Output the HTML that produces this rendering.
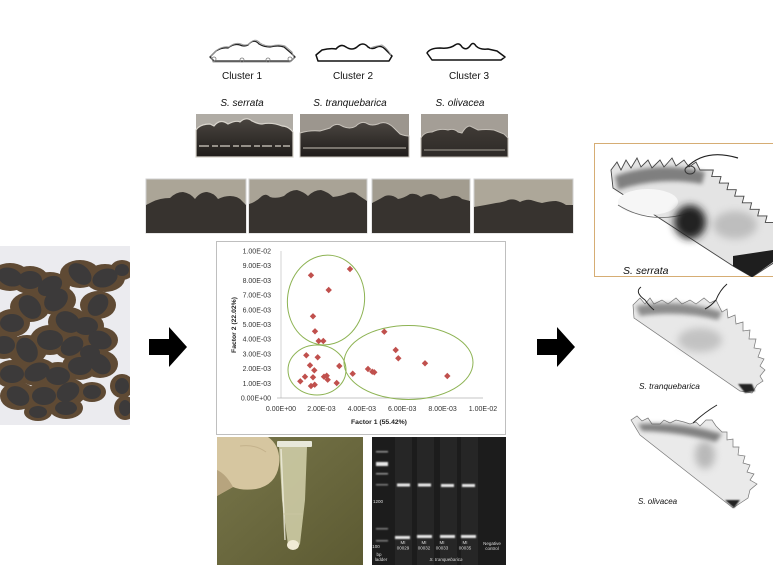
<!DOCTYPE html>
<html><head><meta charset="utf-8"><style>
html,body{margin:0;padding:0;background:#fff;}
svg{display:block;}
text{font-family:"Liberation Sans",Arial,sans-serif;}
</style></head><body>
<svg width="773" height="581" viewBox="0 0 773 581" xmlns="http://www.w3.org/2000/svg">
<defs>
<filter id="bl2" x="-50%" y="-50%" width="200%" height="200%"><feGaussianBlur stdDeviation="2"/></filter>
<filter id="bl4" x="-50%" y="-50%" width="200%" height="200%"><feGaussianBlur stdDeviation="4"/></filter>
<filter id="bl1" x="-50%" y="-50%" width="200%" height="200%"><feGaussianBlur stdDeviation="0.8"/></filter>
<linearGradient id="olive" x1="0" y1="0" x2="1" y2="1"><stop offset="0" stop-color="#78764a"/><stop offset="1" stop-color="#5c5a32"/></linearGradient>
<linearGradient id="dk1" x1="0" y1="0" x2="0" y2="1"><stop offset="0" stop-color="#4a4540"/><stop offset="1" stop-color="#1f1c1a"/></linearGradient>
<linearGradient id="dk2" x1="0" y1="0" x2="0" y2="1"><stop offset="0" stop-color="#403b36"/><stop offset="1" stop-color="#2e2a27"/></linearGradient>
<clipPath id="cp1"><rect x="594" y="143" width="179" height="134"/></clipPath>
<clipPath id="cpc"><rect x="0" y="246" width="130" height="179"/></clipPath>
</defs>
<rect width="773" height="581" fill="#fff"/>

<!-- cluster outlines -->
<g fill="none" stroke-linejoin="round">
<path d="M210,57 L216,51 Q222,47 228,48 Q234,43 240,45 Q244,47 248,45 Q254,38 259,44 Q264,47 270,47 Q278,45 284,47 L291,53 L295,57 L291,61 L214,61 Z" stroke="#222" stroke-width="1.3"/>
<path d="M211,56 L217,50 Q223,46 229,47 Q235,42 241,44 Q245,46 249,44 Q255,37 260,43 Q265,46 271,46 Q279,44 285,46 L292,52 L294,58 L290,62 L213,62 Z" stroke="#999" stroke-width="1"/>
<circle cx="214" cy="59" r="2" stroke="#777" stroke-width=".8"/><circle cx="242" cy="60" r="2" stroke="#777" stroke-width=".8"/><circle cx="268" cy="60" r="2" stroke="#777" stroke-width=".8"/><circle cx="290" cy="59" r="2" stroke="#777" stroke-width=".8"/>
<path d="M316,55 L322,50 Q330,48 336,49 Q341,43 346,47 Q352,51 357,47 Q363,41 368,47 Q372,50 377,47 Q381,45 385,49 L392,56 L389,61 L318,61 Z" stroke="#111" stroke-width="1.5"/>
<path d="M370,48 Q376,46 382,45 Q387,48 391,55" stroke="#999" stroke-width="1"/>
<path d="M427,53 Q430,48 440,48 Q450,49 455,45 Q459,42 462,47 Q466,51 470,46 Q473,41 476,46 Q480,50 488,49 L497,51 L505,57 L501,60 L432,60 Z" stroke="#111" stroke-width="1.5"/>
</g>
<g font-size="10" fill="#111" text-anchor="middle">
<text x="242" y="79">Cluster 1</text>
<text x="353" y="79">Cluster 2</text>
<text x="469" y="79">Cluster 3</text>
</g>
<g font-size="10" fill="#111" text-anchor="middle" font-style="italic">
<text x="242" y="106">S. serrata</text>
<text x="350" y="106">S. tranquebarica</text>
<text x="460" y="106">S. olivacea</text>
</g>

<!-- row 1 photos -->
<rect x="196" y="114" width="97" height="43" fill="#b0aca5"/>
<path d="M196,130 Q200,124 210,124 L214,126 Q220,118 228,124 Q236,120 240,122 Q246,116 252,121 Q258,124 262,124 Q272,122 282,126 Q288,126 293,132 L293,157 L196,157 Z" fill="url(#dk1)" stroke="#d8d4cc" stroke-width="1.2"/>
<line x1="199" y1="146" x2="290" y2="146" stroke="#b8b3aa" stroke-width="1.5" stroke-dasharray="10 3 6 2"/>
<rect x="300" y="114" width="109" height="43" fill="#9c968e"/>
<path d="M300,133 Q310,130 320,131 L330,128 Q336,122 342,126 Q350,130 356,126 Q362,120 368,124 Q372,126 378,124 Q386,120 394,128 L400,134 Q405,136 409,136 L409,157 L300,157 Z" fill="url(#dk1)" stroke="#c9c4bc" stroke-width="1"/>
<line x1="303" y1="148" x2="406" y2="148" stroke="#a9a39a" stroke-width="1.2"/>
<rect x="421" y="114" width="87" height="43" fill="#a49e96"/>
<path d="M421,138 Q424,132 432,132 Q440,128 448,130 Q454,128 458,132 L462,133 Q466,126 470,126 Q474,128 478,130 Q486,129 494,130 L504,134 L508,138 L508,157 L421,157 Z" fill="url(#dk2)" stroke="#c3beb6" stroke-width="1"/>
<line x1="424" y1="150" x2="505" y2="150" stroke="#8f8a82" stroke-width="1.2"/>

<!-- row 2 photos -->
<g stroke="#cfcfcf" stroke-width="1">
<rect x="146" y="179" width="100" height="54" fill="#aba597"/>
<rect x="249" y="179" width="118" height="54" fill="#a9a396"/>
<rect x="372" y="179" width="98" height="54" fill="#a29c8f"/>
<rect x="474" y="179" width="99" height="54" fill="#ada799"/>
</g>
<g fill="#37332f">
<path d="M146,205 L152,202 Q160,198 170,198 Q176,192 183,192 Q190,193 195,199 Q200,192 207,192 Q214,193 218,199 Q224,196 230,196 Q238,196 242,201 L246,205 L246,233 L146,233 Z"/>
<path d="M249,204 Q256,202 262,196 Q266,193 270,197 Q276,199 284,196 Q290,190 297,190 Q304,192 308,196 Q314,190 321,190 Q328,192 333,197 Q342,196 348,193 Q354,191 358,195 L364,199 L367,201 L367,233 L249,233 Z"/>
<path d="M372,203 Q378,200 385,196 Q392,194 398,199 Q404,198 410,194 Q416,193 421,197 Q426,194 431,194 Q436,195 440,199 Q448,198 452,196 Q458,195 462,199 L470,201 L470,233 L372,233 Z"/>
<path d="M474,207 Q486,205 496,203 Q504,202 508,200 Q514,198 520,202 Q526,199 531,200 Q537,202 542,203 Q550,201 556,201 Q562,202 566,205 L573,205 L573,233 L474,233 Z"/>
</g>

<!-- crab photo -->
<rect x="0" y="246" width="130" height="179" fill="#ebebef"/>
<g clip-path="url(#cpc)">
<g fill="#5f4a34">
<ellipse cx="10" cy="277" rx="20" ry="14"/><ellipse cx="30" cy="280" rx="19" ry="14"/><ellipse cx="50" cy="286" rx="20" ry="14"/><ellipse cx="80" cy="274" rx="20" ry="14"/><ellipse cx="105" cy="278" rx="20" ry="14"/><ellipse cx="122" cy="270" rx="12" ry="10"/><ellipse cx="30" cy="307" rx="20" ry="15"/><ellipse cx="12" cy="323" rx="18" ry="14"/><ellipse cx="56" cy="300" rx="20" ry="15"/><ellipse cx="68" cy="322" rx="20" ry="15"/><ellipse cx="86" cy="326" rx="18" ry="14"/><ellipse cx="98" cy="305" rx="18" ry="14"/><ellipse cx="100" cy="340" rx="18" ry="13"/><ellipse cx="4" cy="345" rx="17" ry="14"/><ellipse cx="27" cy="350" rx="20" ry="15"/><ellipse cx="50" cy="340" rx="20" ry="15"/><ellipse cx="72" cy="346" rx="18" ry="14"/><ellipse cx="80" cy="366" rx="18" ry="14"/><ellipse cx="100" cy="364" rx="18" ry="14"/><ellipse cx="12" cy="374" rx="18" ry="14"/><ellipse cx="37" cy="372" rx="20" ry="14"/><ellipse cx="58" cy="376" rx="18" ry="14"/><ellipse cx="18" cy="396" rx="18" ry="14"/><ellipse cx="44" cy="396" rx="18" ry="14"/><ellipse cx="68" cy="392" rx="18" ry="14"/><ellipse cx="66" cy="408" rx="17" ry="11"/><ellipse cx="122" cy="386" rx="12" ry="12"/><ellipse cx="125" cy="408" rx="11" ry="12"/><ellipse cx="90" cy="353" rx="16" ry="12"/><ellipse cx="92" cy="392" rx="14" ry="10"/><ellipse cx="38" cy="412" rx="14" ry="9"/>
</g>
<g fill="#3c3a3a">
<ellipse cx="10" cy="277" rx="13" ry="9" transform="rotate(20 10 277)"/><ellipse cx="30" cy="280" rx="12" ry="9"/><ellipse cx="50" cy="286" rx="13" ry="9" transform="rotate(-30 50 286)"/><ellipse cx="80" cy="274" rx="13" ry="9" transform="rotate(40 80 274)"/><ellipse cx="105" cy="278" rx="13" ry="9" transform="rotate(-20 105 278)"/><ellipse cx="122" cy="270" rx="7" ry="6"/><ellipse cx="30" cy="307" rx="13" ry="10" transform="rotate(50 30 307)"/><ellipse cx="12" cy="323" rx="12" ry="9"/><ellipse cx="56" cy="300" rx="13" ry="10" transform="rotate(-40 56 300)"/><ellipse cx="68" cy="322" rx="13" ry="10" transform="rotate(30 68 322)"/><ellipse cx="86" cy="326" rx="12" ry="9"/><ellipse cx="98" cy="305" rx="12" ry="9" transform="rotate(-50 98 305)"/><ellipse cx="100" cy="340" rx="12" ry="9" transform="rotate(20 100 340)"/><ellipse cx="4" cy="345" rx="11" ry="9"/><ellipse cx="27" cy="350" rx="13" ry="10" transform="rotate(60 27 350)"/><ellipse cx="50" cy="340" rx="13" ry="10"/><ellipse cx="72" cy="346" rx="12" ry="9" transform="rotate(-30 72 346)"/><ellipse cx="80" cy="366" rx="12" ry="9"/><ellipse cx="100" cy="364" rx="12" ry="9" transform="rotate(40 100 364)"/><ellipse cx="12" cy="374" rx="12" ry="9"/><ellipse cx="37" cy="372" rx="13" ry="9" transform="rotate(-20 37 372)"/><ellipse cx="58" cy="376" rx="12" ry="9"/><ellipse cx="18" cy="396" rx="12" ry="9" transform="rotate(30 18 396)"/><ellipse cx="44" cy="396" rx="12" ry="9"/><ellipse cx="68" cy="392" rx="12" ry="9" transform="rotate(-30 68 392)"/><ellipse cx="66" cy="408" rx="11" ry="7"/><ellipse cx="122" cy="386" rx="7" ry="8"/><ellipse cx="125" cy="408" rx="6" ry="8"/><ellipse cx="90" cy="353" rx="10" ry="8"/><ellipse cx="92" cy="392" rx="9" ry="7"/><ellipse cx="38" cy="412" rx="9" ry="6"/>
</g>
</g>

<!-- arrows -->
<path d="M149,339 L169,339 L169,327 L187,347 L169,367 L169,355 L149,355 Z" fill="#000"/>
<path d="M537,339 L557,339 L557,327 L575,347 L557,367 L557,355 L537,355 Z" fill="#000"/>

<!-- chart -->
<rect x="216.5" y="241.5" width="289" height="193" fill="#fff" stroke="#bfbfbf"/>
<line x1="281" y1="251" x2="281" y2="398" stroke="#c8c8c8" stroke-width=".8"/>
<line x1="277" y1="398" x2="483" y2="398" stroke="#b0b0b0" stroke-width=".8"/>
<g font-size="7" fill="#333" text-anchor="end">
<text x="271" y="400.5">0.00E+00</text>
<text x="271" y="385.8">1.00E-03</text>
<text x="271" y="371.1">2.00E-03</text>
<text x="271" y="356.4">3.00E-03</text>
<text x="271" y="341.7">4.00E-03</text>
<text x="271" y="327">5.00E-03</text>
<text x="271" y="312.3">6.00E-03</text>
<text x="271" y="297.6">7.00E-03</text>
<text x="271" y="282.9">8.00E-03</text>
<text x="271" y="268.2">9.00E-03</text>
<text x="271" y="253.5">1.00E-02</text>
</g>
<g font-size="7" fill="#333" text-anchor="middle">
<text x="281" y="411">0.00E+00</text>
<text x="321.4" y="411">2.00E-03</text>
<text x="361.8" y="411">4.00E-03</text>
<text x="402.2" y="411">6.00E-03</text>
<text x="442.6" y="411">8.00E-03</text>
<text x="483" y="411">1.00E-02</text>
</g>
<text x="379" y="424" font-size="6.8" font-weight="bold" fill="#222" text-anchor="middle">Factor 1 (55.42%)</text>
<text x="0" y="0" font-size="6.8" font-weight="bold" fill="#222" text-anchor="middle" transform="translate(236,325) rotate(-90)">Factor 2 (22.02%)</text>
<g fill="none" stroke="#8db353" stroke-width="1">
<ellipse cx="326" cy="300" rx="38.5" ry="45" transform="rotate(8 326 300)"/>
<ellipse cx="317" cy="370" rx="29" ry="25"/>
<ellipse cx="408.5" cy="362.5" rx="64.5" ry="37"/>
</g>
<g fill="#c0504d">
<path d="M0,-3.2L3.2,0L0,3.2L-3.2,0Z" transform="translate(311,275.3)"/>
<path d="M0,-3.2L3.2,0L0,3.2L-3.2,0Z" transform="translate(350,269)"/>
<path d="M0,-3.2L3.2,0L0,3.2L-3.2,0Z" transform="translate(328.7,290)"/>
<path d="M0,-3.2L3.2,0L0,3.2L-3.2,0Z" transform="translate(313,316.3)"/>
<path d="M0,-3.2L3.2,0L0,3.2L-3.2,0Z" transform="translate(315,331.3)"/>
<path d="M0,-3.2L3.2,0L0,3.2L-3.2,0Z" transform="translate(318.7,341)"/>
<path d="M0,-3.2L3.2,0L0,3.2L-3.2,0Z" transform="translate(323.3,341)"/>
<path d="M0,-3.2L3.2,0L0,3.2L-3.2,0Z" transform="translate(306.3,355.3)"/>
<path d="M0,-3.2L3.2,0L0,3.2L-3.2,0Z" transform="translate(317.7,357.3)"/>
<path d="M0,-3.2L3.2,0L0,3.2L-3.2,0Z" transform="translate(339.3,366)"/>
<path d="M0,-3.2L3.2,0L0,3.2L-3.2,0Z" transform="translate(310,365.3)"/>
<path d="M0,-3.2L3.2,0L0,3.2L-3.2,0Z" transform="translate(314.3,370.3)"/>
<path d="M0,-3.2L3.2,0L0,3.2L-3.2,0Z" transform="translate(305,376.7)"/>
<path d="M0,-3.2L3.2,0L0,3.2L-3.2,0Z" transform="translate(313,377.3)"/>
<path d="M0,-3.2L3.2,0L0,3.2L-3.2,0Z" transform="translate(324,376.7)"/>
<path d="M0,-3.2L3.2,0L0,3.2L-3.2,0Z" transform="translate(326.7,375.7)"/>
<path d="M0,-3.2L3.2,0L0,3.2L-3.2,0Z" transform="translate(327.7,379.7)"/>
<path d="M0,-3.2L3.2,0L0,3.2L-3.2,0Z" transform="translate(300.3,381.3)"/>
<path d="M0,-3.2L3.2,0L0,3.2L-3.2,0Z" transform="translate(336.7,383)"/>
<path d="M0,-3.2L3.2,0L0,3.2L-3.2,0Z" transform="translate(311,386)"/>
<path d="M0,-3.2L3.2,0L0,3.2L-3.2,0Z" transform="translate(314.7,384.7)"/>
<path d="M0,-3.2L3.2,0L0,3.2L-3.2,0Z" transform="translate(352.7,373.7)"/>
<path d="M0,-3.2L3.2,0L0,3.2L-3.2,0Z" transform="translate(368,369)"/>
<path d="M0,-3.2L3.2,0L0,3.2L-3.2,0Z" transform="translate(372.3,371.7)"/>
<path d="M0,-3.2L3.2,0L0,3.2L-3.2,0Z" transform="translate(374.3,372.3)"/>
<path d="M0,-3.2L3.2,0L0,3.2L-3.2,0Z" transform="translate(384.3,331.7)"/>
<path d="M0,-3.2L3.2,0L0,3.2L-3.2,0Z" transform="translate(395.7,350)"/>
<path d="M0,-3.2L3.2,0L0,3.2L-3.2,0Z" transform="translate(398.3,358.3)"/>
<path d="M0,-3.2L3.2,0L0,3.2L-3.2,0Z" transform="translate(425,363.3)"/>
<path d="M0,-3.2L3.2,0L0,3.2L-3.2,0Z" transform="translate(447.3,376)"/>
</g>

<!-- tube photo -->
<rect x="217" y="437" width="146" height="128" fill="url(#olive)"/>
<path d="M217,437 L268,437 Q281,446 279,465 Q276,485 256,489 Q242,491 233,487 Q224,492 217,496 Z" fill="#d6c6a0"/>
<path d="M217,470 Q226,474 233,487 Q224,492 217,496 Z" fill="#b7a47e"/>
<path d="M240,446 Q255,444 266,452" stroke="#c4b28c" stroke-width="1" fill="none"/>
<rect x="277" y="441" width="35" height="6" rx="1" fill="#e8e8da"/>
<path d="M279,447 L307,447 L305,500 L300,544 Q294,554 288,545 L282,500 Z" fill="#d4d1ac" opacity=".85"/>
<path d="M281,449 L285,540" stroke="#f0eedf" stroke-width="1.5" opacity=".8"/>
<line x1="283" y1="514" x2="303" y2="514" stroke="#c9c5a0" stroke-width="1"/>
<ellipse cx="293" cy="545" rx="6" ry="5" fill="#f1ebd5"/>

<!-- gel -->
<rect x="372" y="437" width="134" height="128" fill="#1c1c1c"/>
<g fill="#262626">
<rect x="395" y="437" width="17" height="128"/><rect x="417" y="437" width="17" height="128"/><rect x="440" y="437" width="17" height="128"/><rect x="461" y="437" width="17" height="128"/>
</g>
<g fill="#e8e8e8" filter="url(#bl1)">
<rect x="376" y="451" width="12" height="1.5" opacity=".6"/>
<rect x="376" y="462" width="12" height="4"/>
<rect x="376" y="473" width="12" height="1.5" opacity=".6"/>
<rect x="376" y="484" width="12" height="1.5" opacity=".5"/>
<rect x="376" y="528" width="12" height="1.5" opacity=".5"/>
<rect x="376" y="540" width="12" height="1.5" opacity=".5"/>
<rect x="397" y="483.5" width="13" height="3"/>
<rect x="418" y="483.5" width="13" height="3"/>
<rect x="441" y="484" width="13" height="3"/>
<rect x="462" y="484" width="13" height="3"/>
<rect x="395" y="536" width="15" height="3"/>
<rect x="417" y="535" width="15" height="3"/>
<rect x="440" y="535" width="15" height="3"/>
<rect x="461" y="535" width="15" height="3"/>
</g>
<g font-size="4.5" fill="#ddd" text-anchor="middle">
<text x="378" y="503">1200</text>
<text x="376" y="548">100</text>
<text x="379" y="556">bp</text>
<text x="381" y="561">ladder</text>
<text x="403" y="544">MI</text><text x="403" y="549.5">00029</text>
<text x="424" y="544">MI</text><text x="424" y="549.5">00032</text>
<text x="442" y="544">MI</text><text x="442" y="549.5">00033</text>
<text x="465" y="544">MI</text><text x="465" y="549.5">00035</text>
<text x="492" y="545">Negative</text><text x="492" y="550">control</text>
<text x="446" y="561" font-style="italic">S. tranquebarica</text>
</g>

<!-- right panel -->
<rect x="594.5" y="143.5" width="182" height="133" fill="#fff" stroke="#d6ad74" stroke-width="1"/>
<g clip-path="url(#cp1)">
<path d="M613,188 L611,170 L617,162 L621,170 L626,160 L631,168 L637,158 L641,167 L648,160 L652,168 L660,160 L664,167 L672,158 L676,166 L684,160 L689,167 L696,162 L700,170 L704,170 L713.3,170 L711.7,176.6 L721,176.6 L719.3,183.1 L728.6,183.1 L727,189.7 L736.3,189.7 L734.7,196.2 L744,196.2 L742.3,202.8 L751.6,202.8 L750,209.3 L759.3,209.3 L757.7,215.9 L767,215.9 L765.3,222.4 L774.6,222.4 L775,229 L775,262 L752,277 L733,266 Z" fill="#e4e4e4" stroke="#444" stroke-width=".9"/>
<path d="M615,176 Q660,160 705,172 L702,184 Q660,176 618,190 Z" fill="#555" filter="url(#bl2)" opacity=".7"/>
<ellipse cx="648" cy="202" rx="30" ry="13" fill="#f6f6f6"/>
<path d="M618,205 Q650,225 690,213" stroke="#666" stroke-width=".8" fill="none"/>
<ellipse cx="690" cy="222" rx="16" ry="17" fill="#222" filter="url(#bl4)"/>
<ellipse cx="735" cy="225" rx="22" ry="14" fill="#999" filter="url(#bl4)" opacity=".5"/>
<path d="M733,256 L773,250 L773,262 L752,277 L733,266 Z" fill="#1e1e1e"/>
<path d="M686,168 Q705,148 738,158" stroke="#222" stroke-width="1.2" fill="none"/>
<ellipse cx="690" cy="170" rx="5" ry="4" fill="none" stroke="#333" stroke-width="1"/>
</g>
<text x="623" y="274" font-size="10.5" font-style="italic" fill="#111">S. serrata</text>

<path d="M634,318 L633,305 L640,298 L645,304 L650,298 L654,304 L662,300 L668,304 L676,298 L682,304 L690,300 L696,304 L704,298 L710,303 L716,300 L722,312 L727,309 L728,318 L735,315 L736,324 L743,322 L743,331 L750,330 L749,339 L756,339 L754,348 L761,349 L758,357 L764,359 L760,366 L765,370 L760,376 L763,381 L757,385 L752,393 L740,391 Z" fill="#e8e8e8" stroke="#777" stroke-width=".7"/>
<path d="M636,306 Q680,298 722,312 L718,320 Q680,310 640,316 Z" fill="#666" filter="url(#bl2)" opacity=".7"/>
<ellipse cx="700" cy="340" rx="22" ry="12" fill="#aaa" filter="url(#bl4)" opacity=".6"/>
<path d="M738,384 L752,384 L755,391 L745,393 Z" fill="#222" filter="url(#bl1)"/>
<path d="M641,287 Q634,292 645,300 Q650,307 654,310" stroke="#222" stroke-width="1" fill="none"/>
<path d="M727,284 Q720,290 716,300 Q711,306 705,309" stroke="#222" stroke-width="1" fill="none"/>
<text x="639" y="389" font-size="8.3" font-style="italic" fill="#111">S. tranquebarica</text>

<path d="M640,435 L631,420 L637,416 L642,421 L648,418 L652,424 L660,424 L664,420 L670,423 L676,420 L684,422 L690,424 L696,422 L700,426 L706,420 L712,420 L716,426 L722,432 L727,432 L727,440 L733,439 L733,447 L739,447 L738,455 L745,456 L743,463 L750,465 L747,472 L754,474 L750,480 L757,484 L750,490 L748,498 L742,502 L733,508 Z" fill="#eaeaea" stroke="#777" stroke-width=".7"/>
<path d="M638,424 Q680,421 722,434 L716,442 Q680,432 642,431 Z" fill="#555" filter="url(#bl2)" opacity=".7"/>
<ellipse cx="705" cy="455" rx="10" ry="14" fill="#999" filter="url(#bl4)" opacity=".6"/>
<path d="M725,500 L740,500 L734,508 Z" fill="#222" filter="url(#bl1)"/>
<path d="M717,405 Q705,412 693,423" stroke="#222" stroke-width="1" fill="none"/>
<text x="638" y="504" font-size="8" font-style="italic" fill="#111">S. olivacea</text>
</svg>
</body></html>
